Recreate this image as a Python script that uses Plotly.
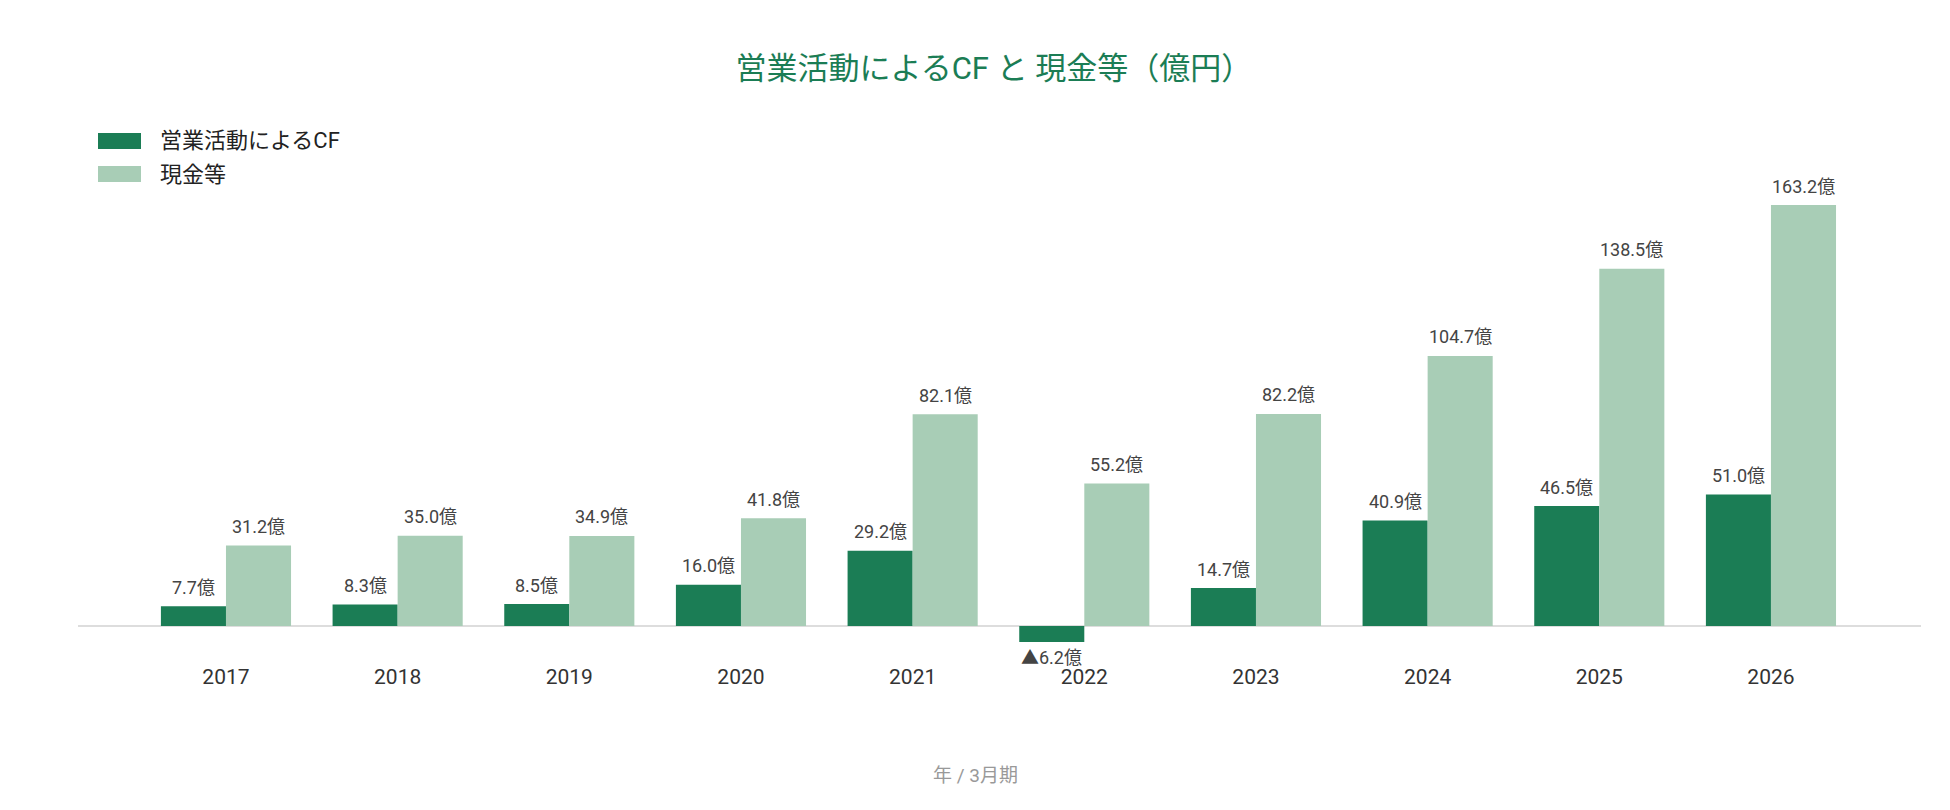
import plotly.graph_objects as go

years = ["2017", "2018", "2019", "2020", "2021", "2022", "2023", "2024", "2025", "2026"]
cf_values = [7.7, 8.3, 8.5, 16.0, 29.2, -6.2, 14.7, 40.9, 46.5, 51.0]
cash_values = [31.2, 35.0, 34.9, 41.8, 82.1, 55.2, 82.2, 104.7, 138.5, 163.2]
series_names = ["営業活動によるCF", "現金等"]
title_text = "営業活動によるCF と 現金等（億円）"
xaxis_label = "年 / 3月期"

DARK = "#1b7d55"
LIGHT = "#a8cdb6"
FONT = "Roboto, 'Noto Sans CJK JP', sans-serif"

# page is offset by the 8px body margin
OFF = 8
W, H = 1950 - 2 * OFF, 810 - 2 * OFF
ML = 78 - OFF
MR = W - (1921 - OFF)
MT = 190 - OFF
MB = H - (655 - OFF)
PW = W - ML - MR
PH = H - MT - MB
BAR_PX = 65


def fmt(v):
    return ("▲" if v < 0 else "") + f"{abs(v):.1f}億"


def px_x(page_x):
    return (page_x - OFF - ML) / PW


def px_y(page_y):
    return (H - MB - (page_y - OFF)) / PH


fig = go.Figure()
fig.add_trace(go.Bar(x=years, y=cf_values, name=series_names[0], marker_color=DARK,
                     marker_line_width=0, hoverinfo="x+y"))
fig.add_trace(go.Bar(x=years, y=cash_values, name=series_names[1], marker_color=LIGHT,
                     marker_line_width=0, hoverinfo="x+y"))

annotations = []
for xs, vals in ((-BAR_PX / 2, cf_values), (BAR_PX / 2, cash_values)):
    for i, v in enumerate(vals):
        annotations.append(dict(
            x=i, y=v, xref="x", yref="y", text=fmt(v), showarrow=False,
            xshift=xs, yshift=19 if v >= 0 else -16, yanchor="middle",
            font=dict(family=FONT, size=18, color="#444444"),
        ))

# axis title
annotations.append(dict(x=px_x(975), y=px_y(775), xref="paper", yref="paper",
                        text=xaxis_label, showarrow=False, xanchor="center", yanchor="middle",
                        font=dict(family=FONT, size=19, color="#999999")))

# custom legend
shapes = []
for i, (name, col) in enumerate(zip(series_names, [DARK, LIGHT])):
    yc = 141 + 33 * i
    shapes.append(dict(type="rect", xref="paper", yref="paper",
                       x0=px_x(98), x1=px_x(141),
                       y0=px_y(yc + 8), y1=px_y(yc - 8),
                       fillcolor=col, line_width=0))
    annotations.append(dict(x=px_x(158), y=px_y(yc),
                            xref="paper", yref="paper", text=name, showarrow=False,
                            xanchor="left", yanchor="middle",
                            font=dict(family=FONT, size=22, color="#222222")))

px_per_unit = (626 - 205) / 163.2
y_top = (626 - 190) / px_per_unit
y_bot = -(655 - 626) / px_per_unit

fig.update_layout(
    width=W, height=H,
    margin=dict(l=ML, r=MR, t=MT, b=MB, pad=0),
    paper_bgcolor="white", plot_bgcolor="white",
    barmode="group", bargap=0.242, bargroupgap=0,
    showlegend=False,
    title=dict(text=title_text, x=(994 - OFF) / W, xref="container", xanchor="center",
               y=1 - (68 - OFF) / H, yref="container", yanchor="middle",
               font=dict(family=FONT, size=31, color="#1b7d55")),
    xaxis=dict(type="category", range=[-0.862, 9.874], showgrid=False, showline=False,
               ticks="", ticklabelstandoff=7,
               tickfont=dict(family=FONT, size=21, color="#333333")),
    yaxis=dict(range=[y_bot, y_top], showgrid=False, showticklabels=False,
               zeroline=True, zerolinecolor="#dddddd", zerolinewidth=1.5, showline=False),
    annotations=annotations, shapes=shapes,
    font=dict(family=FONT),
)

fig.write_html("out.html")
